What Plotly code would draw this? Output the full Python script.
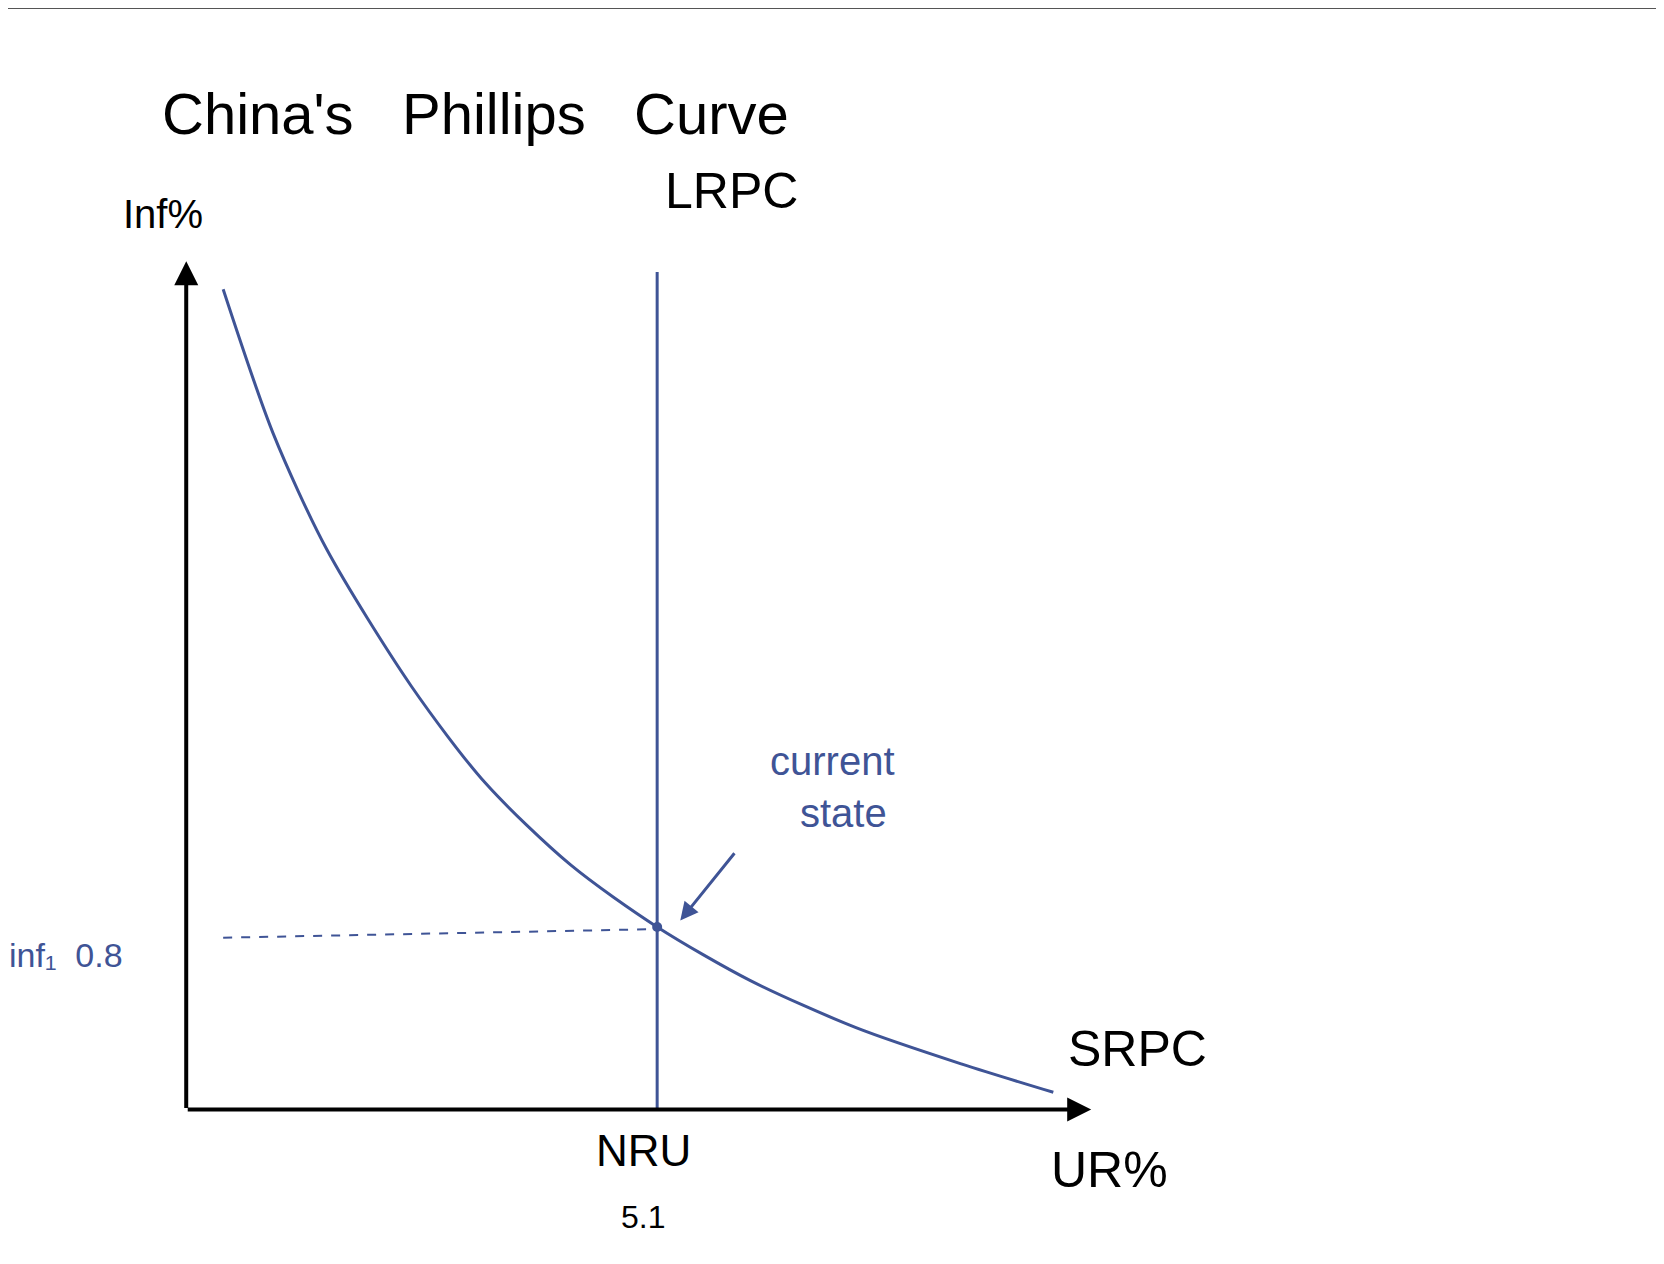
import plotly.graph_objects as go

# data units: x = unemployment %, y = inflation %
srpc_x = [0.40, 0.94, 1.52, 2.44, 3.24, 4.16, 5.10, 6.11, 7.26, 8.41, 9.39]
srpc_y = [3.82, 3.15, 2.61, 1.97, 1.52, 1.14, 0.85, 0.60, 0.38, 0.21, 0.08]
nru = 5.1
inf1 = 0.8
lrpc_top = 3.9
x_max = 9.8
y_max = 3.95

blue = "#3f5496"
font = "Liberation Sans"

fig = go.Figure()
fig.add_trace(go.Scatter(x=srpc_x, y=srpc_y, mode="lines",
                         line=dict(color=blue, width=3, shape="spline", smoothing=0.8)))
fig.add_trace(go.Scatter(x=[nru, nru], y=[0, lrpc_top], mode="lines",
                         line=dict(color=blue, width=3)))
fig.add_trace(go.Scatter(x=[0.4, nru], y=[inf1, 0.84], mode="lines",
                         line=dict(color=blue, width=2, dash="dash")))
fig.add_trace(go.Scatter(x=[nru], y=[0.85], mode="markers",
                         marker=dict(color=blue, size=10)))

# axes with arrows
fig.add_annotation(x=x_max, y=0, ax=0, ay=0, xref="x", yref="y", axref="x", ayref="y",
                   showarrow=True, arrowhead=2, arrowsize=1.2, arrowwidth=4, arrowcolor="black", text="")
fig.add_annotation(x=0, y=y_max, ax=0, ay=0, xref="x", yref="y", axref="x", ayref="y",
                   showarrow=True, arrowhead=2, arrowsize=1.2, arrowwidth=4, arrowcolor="black", text="")
# arrow to current state
fig.add_annotation(x=nru + 0.25, y=0.88, ax=nru + 0.85, ay=1.2,
                   xref="x", yref="y", axref="x", ayref="y",
                   showarrow=True, arrowhead=2, arrowsize=1.2, arrowwidth=3, arrowcolor=blue, text="")

def txt(x, y, s, size, color="black"):
    fig.add_annotation(x=x, y=y, xref="x", yref="y", text=s, showarrow=False,
                       font=dict(family=font, size=size, color=color))

txt(3.13, 4.64, "China's   Phillips   Curve", 58)
txt(5.9, 4.28, "LRPC", 50)
txt(-0.25, 4.17, "Inf%", 40)
txt(10.3, 0.28, "SRPC", 50)
txt(10.0, -0.28, "UR%", 50)
txt(nru - 0.15, -0.19, "NRU", 44)
txt(nru - 0.15, -0.5, "5.1", 32)
txt(-1.3, 0.72, "inf₁  0.8", 34, blue)
txt(7.0, 1.5, "current<br>  state", 40, blue)

fig.update_xaxes(range=[-1.93, 16.09], visible=False)
fig.update_yaxes(range=[-0.757, 5.13], visible=False)
fig.update_layout(width=1664, height=1264, margin=dict(l=0, r=0, t=0, b=0),
                  plot_bgcolor="white", paper_bgcolor="white", showlegend=False,
                  shapes=[dict(type="line", xref="paper", yref="paper", x0=0, x1=1, y0=1, y1=1,
                               line=dict(color="#555", width=2))])
fig.write_html("out.html")
